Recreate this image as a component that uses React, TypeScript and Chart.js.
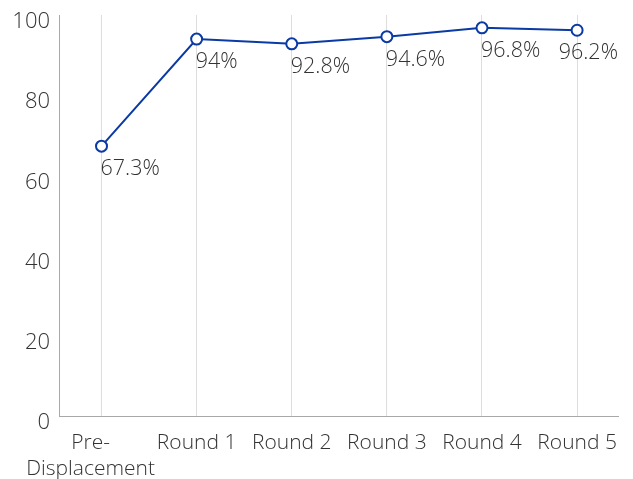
import React, { useEffect, useRef } from "react";
import { Chart, registerables } from "chart.js";

Chart.register(...registerables);

const categories: (string | string[])[] = [["Pre-    ", "Displacement    "], "Round 1", "Round 2", "Round 3", "Round 4", "Round 5"];
const values: number[] = [67.3, 94, 92.8, 94.6, 96.8, 96.2];
const yTicks: number[] = [0, 20, 40, 60, 80, 100];

const FONT = "'Open Sans', 'Noto Sans', sans-serif";
const TEXT = "#333333";
const BLUE = "#0a3aa3";

const labelPlugin = {
  id: "pointLabels",
  afterDatasetsDraw(chart: any) {
    const ctx = chart.ctx;
    const meta = chart.getDatasetMeta(0);
    const right = chart.chartArea.right;
    ctx.save();
    ctx.font = `300 21.5px ${FONT}`;
    ctx.fillStyle = TEXT;
    ctx.textAlign = "left";
    ctx.textBaseline = "middle";
    meta.data.forEach((el: any, i: number) => {
      const txt = `${values[i]}%`;
      const w = ctx.measureText(txt).width;
      const x = Math.min(el.x - 1, right - w);
      ctx.fillText(txt, x, el.y + 23);
    });
    ctx.restore();
  },
};

const noPad = (scale: any) => {
  scale.paddingTop = 0;
  scale.paddingBottom = 0;
  scale.paddingLeft = 0;
  scale.paddingRight = 0;
};

export default function App() {
  const ref = useRef<HTMLCanvasElement | null>(null);
  useEffect(() => {
    if (!ref.current) return;
    const chart = new Chart(ref.current, {
      type: "line",
      data: {
        datasets: [
          {
            data: values.map((v, i) => ({ x: i, y: v })),
            borderColor: BLUE,
            borderWidth: 2,
            backgroundColor: "#ffffff",
            pointBackgroundColor: "#ffffff",
            pointBorderColor: BLUE,
            pointBorderWidth: 2,
            pointRadius: 5.5,
            tension: 0,
          },
        ],
      },
      options: {
        animation: false,
        responsive: true,
        maintainAspectRatio: false,
        layout: { padding: { top: 15, right: 15, left: 0, bottom: 0 } },
        plugins: { legend: { display: false }, tooltip: { enabled: false } },
        scales: {
          x: {
            type: "linear",
            min: -0.447,
            max: 5.43,
            afterBuildTicks: (axis: any) => {
              axis.ticks = categories.map((_, i) => ({ value: i }));
            },
            afterFit: (scale: any) => {
              scale.height = 63;
              noPad(scale);
            },
            ticks: {
              autoSkip: false,
              maxRotation: 0,
              padding: 14,
              color: TEXT,
              font: { family: FONT, size: 21, weight: "300", lineHeight: 1.25 },
              callback: (v: any) => categories[Math.round(Number(v))] as any,
            },
            grid: { display: true, color: "#dddddd", drawTicks: false, lineWidth: 1 },
            border: { display: true, color: "#a8a8a8", width: 1 },
          },
          y: {
            min: 0,
            max: 100,
            afterBuildTicks: (axis: any) => {
              axis.ticks = yTicks.map((v) => ({ value: v }));
            },
            afterFit: (scale: any) => {
              scale.width = 59;
              noPad(scale);
            },
            ticks: {
              padding: 9,
              labelOffset: 7,
              color: TEXT,
              font: { family: FONT, size: 22, weight: "300" },
            },
            grid: { display: false, drawTicks: false },
            border: { display: true, color: "#a8a8a8", width: 1 },
          },
        },
      },
      plugins: [labelPlugin],
    });
    return () => chart.destroy();
  }, []);
  return (
    <div style={{ position: "fixed", left: 0, top: 0, width: 633, height: 479, background: "#fff" }}>
      <canvas ref={ref} />
    </div>
  );
}
